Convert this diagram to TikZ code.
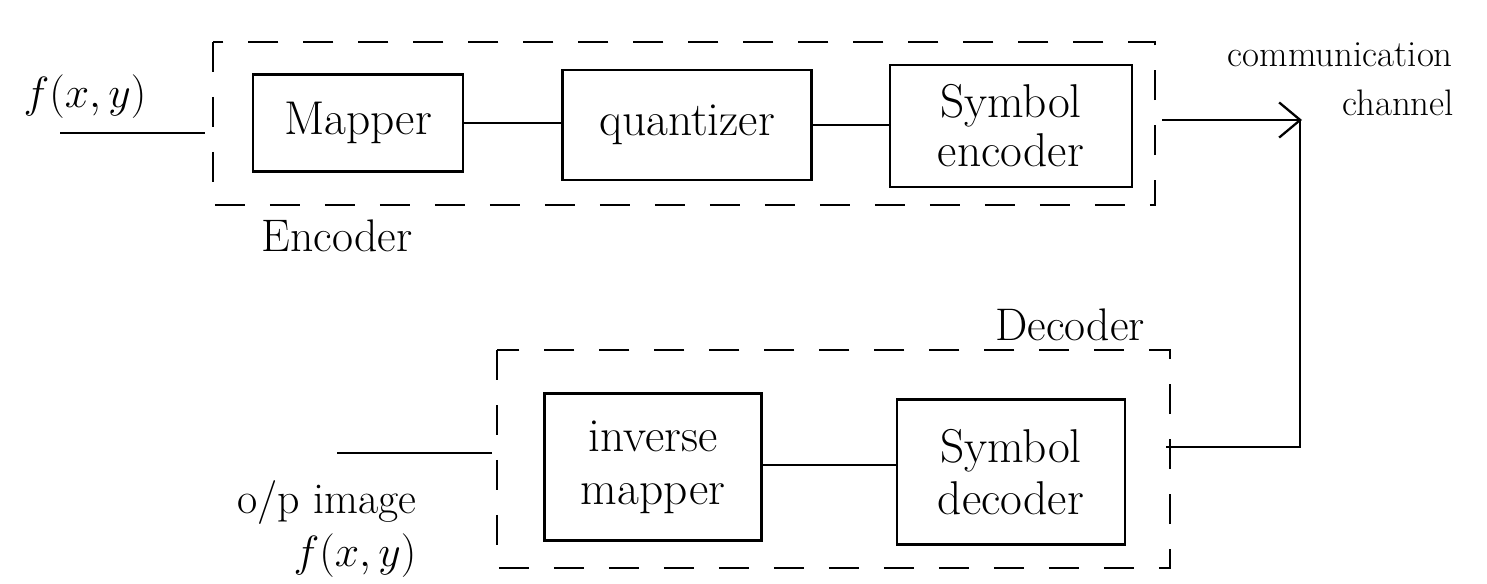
\documentclass[tikz,border=0pt]{standalone}
\usetikzlibrary{arrows.meta}
\begin{document}
\begin{tikzpicture}[x=0.02cm,y=-0.02cm,
  line width=1.3pt,
  blockbox/.style={draw,rectangle,align=center,inner sep=2pt,
    font=\fontsize{27}{32}\selectfont},
  groupbox/.style={draw,dash pattern=on 0.6cm off 0.5cm},
  wire/.style={draw},
  flow/.style={draw,-{Straight Barb[length=12pt,width=20pt]}},
  caption/.style={font=\fontsize{26}{30}\selectfont,inner sep=1pt},
  smallcaption/.style={font=\fontsize{21}{25}\selectfont,inner sep=1pt}]
\useasboundingbox (0,0) rectangle (1487,583);

% encoder group
\draw[groupbox] (213,42) rectangle (1155,205);
\node[caption] (enclabel) at (337,236) {Encoder};

% encoder stages
\node[blockbox,minimum width=4.2cm,minimum height=1.94cm] (mapper) at (358,123) {Mapper};
\node[blockbox,minimum width=4.98cm,minimum height=2.2cm] (quant) at (687,125) {quantizer};
\node[blockbox,minimum width=4.84cm,minimum height=2.44cm] (symenc) at (1011,126) {Symbol\\[-4pt]encoder};

% decoder group
\draw[groupbox] (497,350) rectangle (1170,568);
\node[caption] (declabel) at (1070,325) {Decoder};

% decoder stages
\node[blockbox,minimum width=4.34cm,minimum height=2.94cm] (invmap) at (653,467) {inverse\\[-2pt]mapper};
\node[blockbox,minimum width=4.56cm,minimum height=2.9cm] (symdec) at (1011,472) {Symbol\\[-2pt]decoder};

% input image
\coordinate (inA) at (60,133);
\coordinate (inB) at (205,133);
\draw[wire] (inA) -- (inB);
\node[caption,font=\fontsize{28}{32}\selectfont] (fin) at (85,97) {$f(x,y)$};

% encoder internal links
\draw[wire] (mapper.east) -- (mapper.east -| quant.west);
\draw[wire] (quant.east) -- (quant.east -| symenc.west);

% channel
\coordinate (encOut) at (1162,120);
\coordinate (chan) at (1302,120);
\coordinate (chanLow) at (1300,447);
\coordinate (decIn) at (1166,447);
\draw[flow] (encOut) -- (chan);
\draw[wire] (chan -| chanLow) -- (chanLow) -- (decIn);
\node[smallcaption,anchor=west] (chanlabel) at (1225,55) {communication};
\node[smallcaption] (chanlabel2) at (1398,103) {channel};

% decoder internal link
\draw[wire] (symdec.west |- 0,465) -- (invmap.east |- 0,465);

% output image
\coordinate (outA) at (492,453);
\coordinate (outB) at (337,453);
\draw[wire] (outA) -- (outB);
\node[caption,font=\fontsize{25}{30}\selectfont] (outlabel) at (327,503) {o/p image};
\node[caption] (fout) at (355,556) {$f(x,y)$};
\end{tikzpicture}
\end{document}
